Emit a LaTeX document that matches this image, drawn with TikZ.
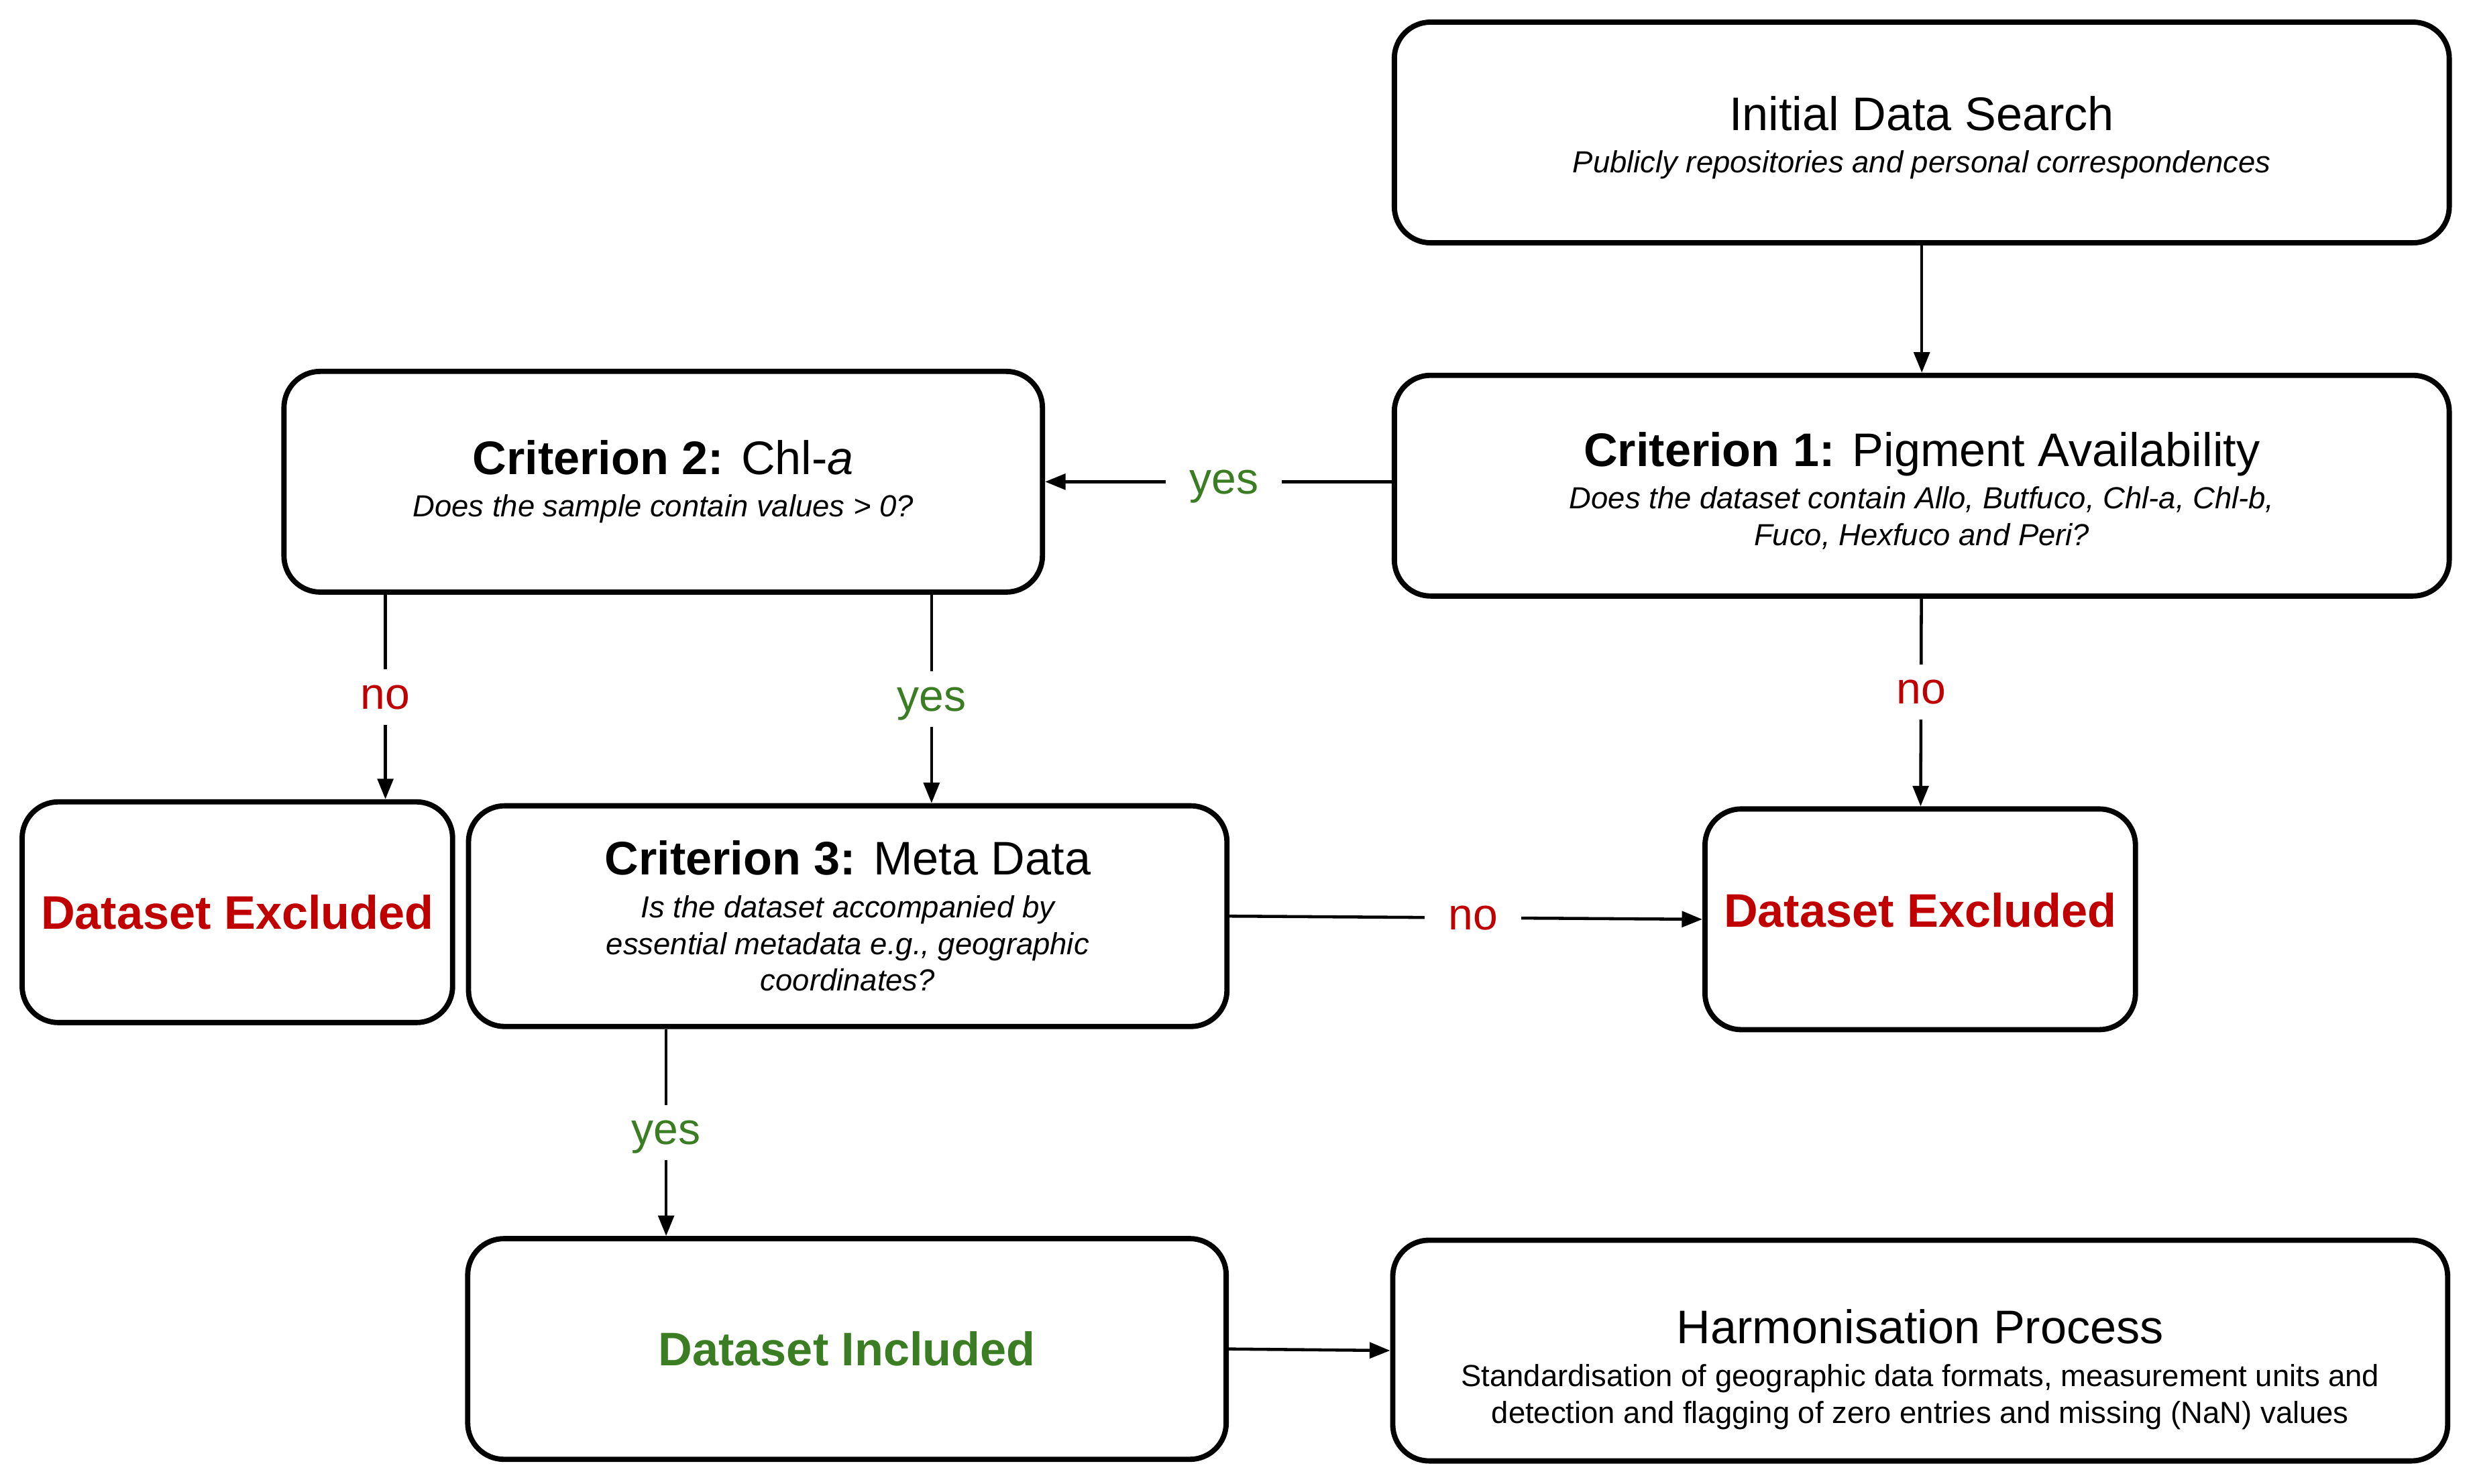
\documentclass[tikz,border=0pt]{standalone}
\usepackage{fontspec}
\setmainfont{Liberation Sans}
\usetikzlibrary{arrows.meta}
\definecolor{nored}{RGB}{192,0,0}
\definecolor{yesgreen}{RGB}{59,125,35}
\begin{document}
\begin{tikzpicture}[x=0.02cm,y=-0.02cm,line cap=butt,line join=miter,>={Triangle[length=0.26cm,width=0.2cm]}]
	\tikzset{box/.style={draw,line width=1.9pt,rounded corners=0.46cm,minimum height=2.8cm,align=center,inner sep=2pt,font=\fontsize{11}{13.3}\selectfont},
		widebox/.style={box,minimum width=13.38cm},
		midbox/.style={box,minimum width=9.62cm},
		endbox/.style={box,minimum width=5.46cm},
		link/.style={->,line width=1.1pt},
		lab/.style={fill=white,inner xsep=0.3cm,inner ysep=0.2cm,text depth=0pt,font=\fontsize{16}{16}\selectfont}}
	\def\ttl{\fontsize{17}{20}\selectfont}
	\useasboundingbox (0,0) rectangle (1568,941);
	%--------- Boxes
	\node[widebox] (init) at (1218.5,84) {{\ttl\rule{0pt}{16pt}Initial Data Search}\\[2pt]\itshape Publicly repositories and personal correspondences};
	\node[widebox] (c1) at (1218.5,308) {{\ttl\rule{0pt}{16pt}\textbf{Criterion 1:} Pigment Availability}\\[2pt]\itshape Does the dataset contain Allo, Butfuco, Chl-a, Chl-b,\\\itshape Fuco, Hexfuco and Peri?};
	\node[midbox] (c2) at (420.5,305.5) {{\ttl\textbf{Criterion 2:} Chl-\textit{a}}\\[2pt]\itshape Does the sample contain values > 0?};
	\node[endbox,text=nored] (ex1) at (150.5,578.5) {\ttl\bfseries Dataset Excluded};
	\node[midbox] (c3) at (537.5,581) {{\ttl\textbf{Criterion 3:} Meta Data}\\[2pt]\itshape Is the dataset accompanied by\\\itshape essential metadata e.g., geographic\\\itshape coordinates?};
	\node[endbox,text=nored,text depth=6.8pt] (ex2) at (1217.5,583) {\ttl\bfseries Dataset Excluded};
	\node[midbox,text=yesgreen] (inc) at (537,855.5) {\ttl\bfseries Dataset Included};
	\node[widebox] (harm) at (1217.5,856.5) {{\ttl\rule{0pt}{26pt}Harmonisation Process}\\[2pt]Standardisation of geographic data formats, measurement units and\\detection and flagging of zero entries and missing (NaN) values};
	%--------- Connectors
	\coordinate (n1) at ([xshift=1.32cm]c2.south west);
	\coordinate (y2) at ([xshift=-1.44cm]c2.south east);
	\coordinate (y3) at ([xshift=2.54cm]c3.south west);
	\draw[link] (init) -- (c1);
	\draw[link] (c1.west |- c2.east) -- (c2.east) node[lab,pos=0.484,text=yesgreen]{yes};
	\draw[link] (n1) -- (n1 |- ex1.north) node[lab,midway,text=nored]{no};
	\draw[link] (y2) -- (y2 |- c3.north) node[lab,midway,text=yesgreen]{yes};
	\draw[link] (c1) -- (ex2) node[lab,pos=0.45,text=nored]{no};
	\draw[link] (c3.east) -- (ex2.west) node[lab,pos=0.515,text=nored]{no};
	\draw[link] (y3) -- (y3 |- inc.north) node[lab,midway,text=yesgreen]{yes};
	\draw[link] (inc.east) -- (harm.west);
\end{tikzpicture}
\end{document}
